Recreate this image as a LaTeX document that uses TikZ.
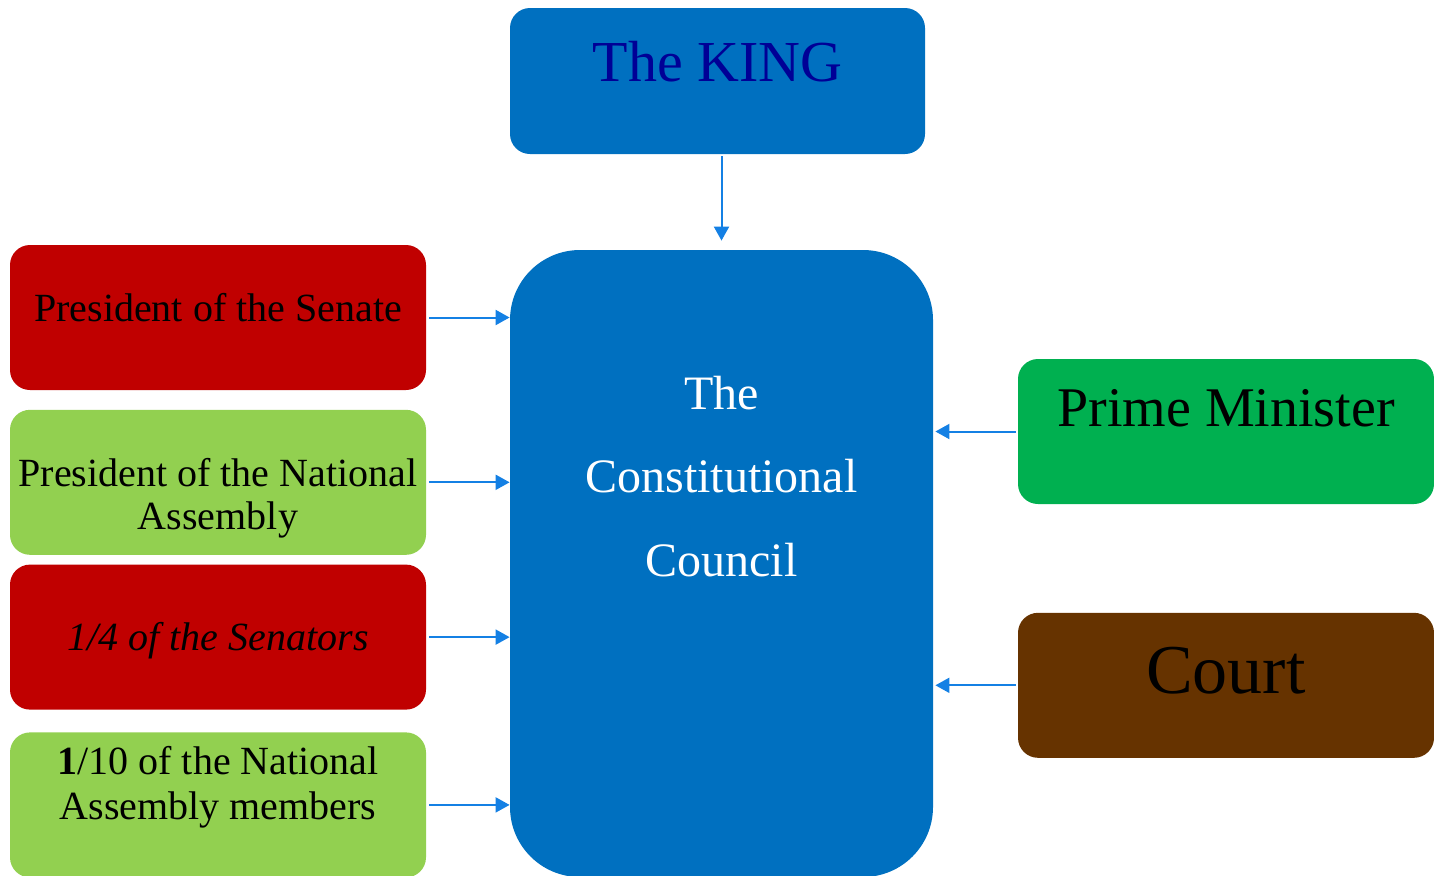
\documentclass[tikz,border=0pt]{standalone}
\usepackage{fontspec}
\setmainfont{Liberation Serif}
\usepackage{tikz}
\usetikzlibrary{arrows.meta, calc, positioning}
\definecolor{councilblue}{RGB}{0,112,192}
\definecolor{kingtext}{RGB}{0,0,150}
\definecolor{senatered}{RGB}{192,0,0}
\definecolor{assemblygreen}{RGB}{146,208,80}
\definecolor{ministergreen}{RGB}{0,176,80}
\definecolor{courtbrown}{RGB}{102,51,0}
\definecolor{arrowblue}{RGB}{20,128,228}
\tikzstyle{box} = [rectangle, rounded corners=10pt, minimum width=208pt, minimum height=72.5pt, inner sep=0pt]
\tikzstyle{boxtext} = [inner sep=0pt, align=center, anchor=base]
\tikzstyle{arrow} = [line width=1pt, draw=arrowblue, ->, >={Triangle[length=7pt, width=7.5pt]}]

\begin{document}
\begin{tikzpicture}[x=0.5pt, y=-0.5pt]
	\useasboundingbox (0,0) rectangle (1434,875);
	\node (King) [box, fill=councilblue, minimum width=207.5pt, minimum height=73pt] at (717.5,81) {};
	\node (Council) [box, fill=councilblue, rounded corners=35pt, minimum width=211.5pt, minimum height=313.5pt] at (721.5,563.5) {};
	\node (Senate) [box, fill=senatered] at (218,317.5) {};
	\node (Assembly) [box, fill=assemblygreen, below = 9.5pt of Senate] {};
	\node (Senators) [box, fill=senatered, below = 4.5pt of Assembly] {};
	\node (Members) [box, fill=assemblygreen, below = 11pt of Senators] {};
	\node (PrimeMinister) [box, fill=ministergreen] at (1226,431.5) {};
	\node (Court) [box, fill=courtbrown, below = 54pt of PrimeMinister] {};
	\node (KingText) [boxtext, text=kingtext, font=\fontsize{29}{34}\selectfont, below = 36.85pt of King.north, anchor=base] {The KING};
	\node (CouncilText) [boxtext, text=white, font=\fontsize{24}{41.7}\selectfont, below = 163.35pt of Council.north, anchor=base] {The\\Constitutional\\Council};
	\node (SenateText) [boxtext, font=\fontsize{20}{22}\selectfont, below = 38.35pt of Senate.north, anchor=base] {President of the Senate};
	\node (AssemblyText) [boxtext, font=\fontsize{20}{21.7}\selectfont, below = 60.15pt of Assembly.north, anchor=base] {President of the National\\Assembly};
	\node (SenatorsText) [boxtext, font=\fontsize{20}{22}\selectfont\itshape, below = 43.15pt of Senators.north, anchor=base] {1/4 of the Senators};
	\node (MembersText) [boxtext, font=\fontsize{20}{22.3}\selectfont, below = 43.65pt of Members.north, anchor=base] {\textbf{1}/10 of the National\\Assembly members};
	\node (PrimeMinisterText) [boxtext, font=\fontsize{28}{32}\selectfont, below = 34.15pt of PrimeMinister.north, anchor=base] {Prime Minister};
	\node (CourtText) [boxtext, font=\fontsize{35}{40}\selectfont, below = 40.65pt of Court.north, anchor=base] {Court};
	\draw [arrow, shorten <=1pt, shorten >=4.5pt] (King.south -| Council.north) -- (Council.north);
	\draw [arrow, shorten <=1.5pt] (Senate.east) -- (Senate.east -| Council.west);
	\draw [arrow, shorten <=1.5pt] (Assembly.east) -- (Assembly.east -| Council.west);
	\draw [arrow, shorten <=1.5pt] (Senators.east) -- (Senators.east -| Council.west);
	\draw [arrow, shorten <=1.5pt] (Members.east) -- (Members.east -| Council.west);
	\draw [arrow, shorten <=1pt, shorten >=1pt] (PrimeMinister.west) -- (PrimeMinister.west -| Council.east);
	\draw [arrow, shorten <=1pt, shorten >=1pt] (Court.west) -- (Court.west -| Council.east);
\end{tikzpicture}
\end{document}
